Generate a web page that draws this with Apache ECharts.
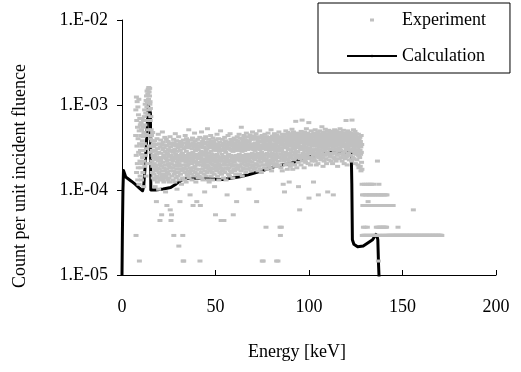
<!DOCTYPE html>
<html>
<head>
<meta charset="utf-8">
<title>Energy spectrum</title>
<script src="https://cdn.jsdelivr.net/npm/echarts@6.0.0/dist/echarts.min.js"></script>
<style>
  html, body { margin: 0; padding: 0; background: #fff; }
  #chart { width: 521px; height: 372px; }
</style>
</head>
<body>
<div id="chart"></div>
<script>
// Measured spectrum: counts per 0.1 keV channel, starting at 7.0 keV (null = empty channel)
const expStartEnergy = 7.0;
const expChannelWidth = 0.1;
const expFluence = 1.37e5;
const expCounts = [
  null,null,null,60,120,4,35,170,22,90, 45,150,28,75,18,130,55,25,105,38, 160,16,68,2,48,95,30,20,80,40, 60,25,85,36,18,70,45,28,95,52, 33,75,22,58,90,40,15,65,30,100,
  48,120,26,80,140,35,62,110,20,155, 90,175,42,130,200,60,150,28,185,105, 210,70,160,220,120,195,45,175,215,140, 150,90,125,55,100,38,70,28,60,45, 30,52,22,40,65,26,35,19,48,33,
  21,44,28,18,35,52,24,15,39,26, 31,19,47,23,10,36,20,55,27,17, 42,25,33,19,62,30,14,38,22,48, 24,32,18,6,44,28,21,53,31,19, 37,26,7,47,20,33,66,23,41,18,
  29,50,21,35,17,43,25,33,19,57, 23,39,27,13,46,20,32,54,24,37, 9,30,45,22,36,18,51,28,41,21, 34,19,48,26,17,39,31,58,8,25, 44,23,6,35,28,7,49,20,33,40,
  25,46,30,18,38,23,54,4,32,21, 49,27,17,41,33,63,22,36,26,45, 19,34,52,24,14,39,29,47,20,31, 43,22,35,58,3,28,46,18,33,51, 10,26,40,21,50,32,24,44,16,36,
  30,47,23,37,19,4,34,2,53,27, 2,42,25,33,18,49,31,22,60,35, 24,44,29,17,39,55,26,34,21,47, 32,20,51,27,43,23,36,70,28,19, 45,30,22,37,12,48,25,33,53,24,
  35,21,46,28,18,42,32,56,23,38, 9,31,49,25,36,20,44,29,64,34, 26,52,22,40,30,17,47,33,24,43, 10,28,45,21,36,54,27,19,41,32, 49,24,34,20,44,29,57,2,37,9,
  33,47,22,39,27,66,30,19,46,35, 24,51,32,18,43,26,36,55,28,21, 44,29,13,48,23,38,31,58,25,40, 20,35,50,27,42,22,33,72,30,18, 46,26,37,54,24,32,17,45,29,49,
  31,23,43,34,60,25,39,20,52,28, 36,47,22,32,18,44,27,56,33,24, 51,30,41,21,35,15,48,26,43,32, 7,40,25,53,29,45,23,36,62,27, 34,20,47,31,42,24,55,28,18,44,
  26,39,50,22,33,46,30,68,25,41, 6,32,21,45,36,27,54,23,40,30, 47,24,34,19,49,6,28,43,33,57, 22,41,30,52,25,38,18,46,32,27, 44,33,12,48,29,24,42,60,35,21,
  36,50,25,43,31,20,46,34,63,27, 23,41,54,28,35,47,22,40,30,51, 33,26,45,19,39,7,49,32,24,43, 56,29,40,23,48,34,27,53,21,44, 31,46,35,10,42,25,58,33,50,26,
  40,24,52,32,45,27,62,36,21,47, 30,56,26,43,34,49,23,41,75,33, 45,28,39,20,55,31,46,25,51,35, 24,43,60,33,48,29,40,57,27,44, 53,32,22,47,36,64,30,42,26,50,
  34,45,28,58,41,24,50,32,43,14, 27,52,36,44,30,61,25,46,35,55, 42,23,48,33,57,29,43,37,66,26, 47,34,54,27,41,32,59,24,45,36, 31,57,40,25,49,35,44,63,28,46,
  10,42,33,55,27,47,37,23,52,34, 58,30,44,26,51,36,68,32,41,24, 46,35,56,29,43,22,50,38,33,60, 2,45,27,53,36,2,42,57,31,48, 33,25,51,43,62,30,46,35,55,27,
  5,41,32,58,24,48,37,53,28,44, 36,64,30,45,52,26,43,34,57,40, 50,29,42,25,55,35,46,70,31,47, 23,53,37,44,28,59,33,48,41,30, 56,35,46,27,43,63,32,52,39,26,
  44,31,57,36,48,28,53,2,41,61, 34,50,26,45,2,55,39,30,49,66, 42,33,58,27,51,5,43,4,36,54, 25,46,5,40,56,32,50,23,62,35, 52,38,16,47,30,59,43,34,55,13,
  33,62,44,27,53,38,68,31,48,36, 57,28,50,43,24,58,35,46,65,32, 41,54,30,49,17,60,37,52,34,45, 26,48,63,33,55,40,28,58,46,71, 51,35,45,24,59,42,32,66,38,53,
  31,57,42,62,27,49,36,55,44,88, 47,33,60,39,52,25,64,43,35,56, 38,53,29,48,15,58,44,34,61,50, 8,45,55,32,63,41,51,27,67,43, 54,35,49,91,30,59,44,37,57,33,
  42,62,34,52,25,47,66,39,55,31, 58,44,29,60,50,36,72,43,33,53, 35,51,64,41,56,28,48,59,38,85, 11,47,32,57,43,62,37,52,27,49, 55,40,68,33,50,45,30,61,48,38,
  46,59,35,53,17,64,41,50,32,57, 37,52,45,70,30,48,60,40,55,27, 62,34,50,42,58,36,47,66,28,54, 12,49,38,61,33,56,44,52,68,35, 51,41,57,31,63,46,36,59,45,76,
  39,55,47,33,60,26,52,43,65,36, 57,30,49,62,40,54,35,71,46,50, 32,63,44,52,28,58,48,38,67,42, 13,50,61,36,56,45,69,31,53,47, 60,41,34,55,48,64,37,51,30,58,
  45,67,36,53,41,59,28,49,62,44, 12,56,47,33,64,40,52,70,32,57, 50,37,61,45,55,30,68,42,58,48, 35,62,48,26,57,51,39,66,46,54, 59,43,32,63,50,41,72,36,55,47,
  40,56,65,33,52,46,60,30,49,58, 63,37,50,44,69,35,54,48,28,61, 46,58,39,53,32,64,45,57,90,41, 52,34,61,47,27,55,43,68,37,50, 44,60,36,56,49,65,31,51,62,40,
  57,45,53,35,64,48,41,59,30,55, 91,39,58,50,33,62,46,54,70,42, 49,32,60,44,56,37,67,47,28,52, 36,58,45,63,40,51,31,57,48,38, 55,41,27,50,62,35,46,25,53,44,
  48,33,57,40,26,51,36,44,23,60, 38,29,47,24,16,4,12,4,9,4, 4,5,4,12,4,9,4,16,4,4, 5,4,12,4,4,9,4,16,4,12, 4,4,5,9,4,4,10,12,4,16,
  4,9,4,12,4,4,16,4,9,4, 12,4,4,9,4,16,4,4,12,4, 4,9,4,4,12,4,4,16,4,9, 4,12,4,4,9,4,4,12,4,4, 5,4,9,4,12,4,30,4,5,9,
  4,2,12,4,16,5,4,9,4,12, 4,5,9,4,12,4,5,4,9,4, 12,4,5,4,9,4,4,12,5,4, 4,9,4,5,12,4,4,9,4,5, 4,12,4,4,9,5,4,12,4,4,
  9,4,4,4,4,9,4,4,4,4, 4,4,9,4,4,4,4,4,9,4, 4,4,4,4,9,4,4,4,4,4, 9,4,4,4,4,4,4,4,4,4, 4,4,4,4,4,4,4,4,4,4,
  4,4,4,4,4,4,5,4,4,4, 4,4,4,4,4,4,4,4,4,4, 4,4,4,4,4,4,4,4,4,4, 4,4,4,4,4,4,4,4,4,4, 4,4,4,4,4,4,4,4,4,4,
  4,4,4,4,4,4,4,4,4,4, 4,4,4,4,4,4,4,4,4,4, 4,4,4,4,4,4,4,4,4,4, 4,4,4,4,4,4,4,4,8,4, 4,4,4,4,4,4,4,4,4,4,
  4,4,4,4,4,4,4,4,4,4, 4,4,4,4,4,4,4,4,4,4, 4,4,4,4,4,4,4,4,4,4, 4,4,4,4,4,4,4,4,4,4, 4,4,4,4,4,4,4,4,4,4,
  4,4,4,4,4,4,4,4,4,4, 4,4,4,4,4,4,4,4,4,4, 4,4,4,4,4,4,4,4,4,4, 4,4,4,4,4,4,4,4,4,4, 4,4,4,4,4,4,4,4,4,4,
  4,4,4,4,4,4,4,4,4,4, 4,4,4,4,4,4,4,4,4,4, 4,4,4,4,4,4,4,4,4,4, 4,4,4,4,4,4,4,4,4,4, 4
];

// Calculated response (energy in keV, count per unit incident fluence)
const calcEnergy = [0.0, 0.2, 0.5, 0.8, 1.2, 2.0, 3.0, 5.0, 7.0, 9.0, 11.0, 11.6, 12.2, 12.8, 13.4, 14.0, 14.6, 15.2, 15.4,
  18.0, 22.0, 26.0, 29.0, 33.0, 40.0, 48.0, 54.0, 63.0, 68.0, 74.0, 82.0, 90.0, 100.0, 108.0, 113.0, 118.0, 122.6,
  122.9, 123.2, 124.0, 126.0, 129.0, 131.6, 134.0, 135.8, 136.5, 136.8, 137.2, 137.6];
const calcValue = [1.0e-5, 3.0e-5, 1.0e-4, 1.7e-4, 1.62e-4, 1.42e-4, 1.36e-4, 1.27e-4, 1.17e-4, 1.07e-4, 9.8e-5, 1.1e-4, 1.7e-4, 2.8e-4, 5.0e-4, 1.0e-3, 9.0e-4, 8.0e-4, 1.0e-4,
  1.0e-4, 1.03e-4, 1.07e-4, 1.18e-4, 1.36e-4, 1.38e-4, 1.35e-4, 1.33e-4, 1.43e-4, 1.52e-4, 1.66e-4, 1.9e-4, 2.05e-4, 2.45e-4, 2.65e-4, 2.8e-4, 2.82e-4, 2.8e-4,
  1.2e-4, 2.6e-5, 2.3e-5, 2.15e-5, 2.2e-5, 2.4e-5, 2.6e-5, 3.0e-5, 2.8e-5, 2.6e-5, 1.3e-5, 8.0e-6];

const seriesNames = ['Experiment', 'Calculation'];
const xTitle = 'Energy [keV]';
const yTitle = 'Count per unit incident fluence';

const expData = [];
expCounts.forEach((c, i) => {
  if (c !== null) {
    expData.push([+(expStartEnergy + i * expChannelWidth).toFixed(1), c / expFluence]);
  }
});
const calcData = calcEnergy.map((e, i) => [e, calcValue[i]]);

const FONT = '"Liberation Serif", "Times New Roman", serif';
const chart = echarts.init(document.getElementById('chart'), null, { renderer: 'canvas' });

chart.setOption({
  animation: false,
  backgroundColor: '#ffffff',
  grid: { left: 122, right: 25, top: 20, bottom: 97, containLabel: false },
  legend: {
    orient: 'vertical',
    left: 318,
    top: 3,
    padding: [8, 24, 8, 28],
    itemGap: 18,
    itemWidth: 50,
    itemHeight: 3,
    borderColor: '#000',
    borderWidth: 1,
    selectedMode: false,
    textStyle: { fontFamily: FONT, fontSize: 18, color: '#000' },
    data: [
      { name: seriesNames[0], icon: 'path://M0,0L0.01,0Z M23,0L27,0L27,3L23,3Z M50,3L49.99,3Z' },
      { name: seriesNames[1] }
    ]
  },
  xAxis: {
    type: 'value',
    min: 0,
    max: 200,
    interval: 50,
    splitLine: { show: false },
    axisLine: { lineStyle: { color: '#000', width: 1 } },
    axisTick: { inside: true, length: 5, lineStyle: { color: '#000' } },
    axisLabel: { margin: 23, fontFamily: FONT, fontSize: 18, color: '#000' }
  },
  yAxis: {
    type: 'log',
    logBase: 10,
    min: 1e-5,
    max: 1e-2,
    splitLine: { show: false },
    axisLine: { show: true, lineStyle: { color: '#000', width: 1 } },
    axisTick: { show: true, inside: false, length: 5, lineStyle: { color: '#000' } },
    minorTick: { show: false },
    axisLabel: {
      margin: 14,
      fontFamily: FONT,
      fontSize: 18,
      color: '#000',
      formatter: v => '1.E-' + String(-Math.round(Math.log10(v))).padStart(2, '0')
    }
  },
  graphic: [
    {
      type: 'text', x: 297, y: 352, silent: true,
      style: { text: xTitle, fontFamily: FONT, fontSize: 18, fill: '#000', align: 'center', verticalAlign: 'middle' }
    },
    {
      type: 'text', x: 20, y: 176, rotation: Math.PI / 2, silent: true,
      style: { text: yTitle, fontFamily: FONT, fontSize: 18, fill: '#000', align: 'center', verticalAlign: 'middle' }
    }
  ],
  series: [
    {
      name: seriesNames[1],
      type: 'line',
      z: 2,
      data: calcData,
      showSymbol: false,
      symbol: 'none',
      clip: true,
      silent: true,
      lineStyle: { color: '#000', width: 3, join: 'round' },
      itemStyle: { color: '#000' }
    },
    {
      name: seriesNames[0],
      type: 'scatter',
      z: 3,
      data: expData,
      symbol: 'rect',
      symbolSize: [5, 3],
      silent: true,
      clip: true,
      itemStyle: { color: '#c0c0c0', opacity: 1 }
    }
  ]
});
</script>
</body>
</html>
